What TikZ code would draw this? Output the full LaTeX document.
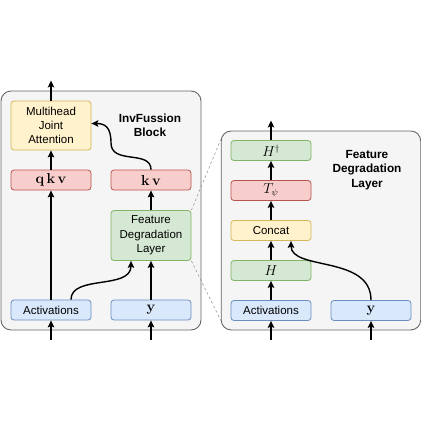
\documentclass[tikz,border=0pt]{standalone}
\usepackage[no-math]{fontspec}
\setmainfont{Liberation Sans}
\usetikzlibrary{arrows.meta,calc}
\definecolor{bfill}{HTML}{DAE8FC}\definecolor{bdraw}{HTML}{6C8EBF}
\definecolor{rfill}{HTML}{F8CECC}\definecolor{rdraw}{HTML}{B85450}
\definecolor{gfill}{HTML}{D5E8D4}\definecolor{gdraw}{HTML}{82B366}
\definecolor{yfill}{HTML}{FFF2CC}\definecolor{ydraw}{HTML}{D6B656}
\definecolor{pfill}{HTML}{F5F5F5}\definecolor{pdraw}{HTML}{666666}
\begin{document}
\begin{tikzpicture}[x=1pt,y=-1pt,
  box/.style={rectangle,rounded corners=3pt,line width=0.8pt,minimum width=80pt,minimum height=20pt,inner sep=0pt,align=center,font=\fontsize{11.5}{14.3}\selectfont},
  mathsize/.style={font=\fontsize{13.5}{15}\selectfont},
  bluebox/.style={box,fill=bfill,draw=bdraw},
  redbox/.style={box,fill=rfill,draw=rdraw},
  greenbox/.style={box,fill=gfill,draw=gdraw},
  yellowbox/.style={box,fill=yfill,draw=ydraw},
  panel/.style={rectangle,rounded corners=10pt,fill=pfill,draw=pdraw,line width=0.9pt,inner sep=0pt},
  title/.style={align=center,font=\fontsize{11.8}{14.3}\selectfont\bfseries},
  arr/.style={line width=1.4pt,-{Stealth[length=7pt,width=6.5pt,inset=1.5pt]}},
  link/.style={gray!80,dashed,line width=0.6pt,dash pattern=on 2.5pt off 2.5pt}]
\useasboundingbox (0,0) rectangle (421,421);
% panels
\node[panel,minimum width=200pt,minimum height=239pt] (lp) at (101,210.5) {};
\node[panel,minimum width=199.5pt,minimum height=199pt] (rp) at (220.75,130.5) [anchor=north west] {};
\node[title] (lt) at (150,125) {InvFussion\\Block};
\node[title] (rt) at (367,170) {Feature\\Degradation\\Layer};
% left nodes
\node[yellowbox,minimum height=49pt] (mja) at (51,125.5) {Multihead\\Joint\\Attention};
\node[redbox,mathsize] (qkv) at (51,180) {$\mathbf{q}\,\mathbf{k}\,\mathbf{v}$};
\node[redbox,mathsize] (kv) at (151,180) {$\mathbf{k}\,\mathbf{v}$};
\node[greenbox,minimum height=50pt] (fdl) at (151,235.5) {Feature\\Degradation\\Layer};
\node[bluebox] (act1) at (51,310) {Activations};
\node[bluebox,mathsize] (y1) at (151,310) {$\mathbf{y}$};
% right nodes
\node[greenbox,mathsize] (Hd) at (271,150.5) {$H^\dagger$};
\node[redbox,mathsize] (T) at (271,190.5) {$T_\psi$};
\node[yellowbox] (cat) at (271,230.5) {Concat};
\node[greenbox,mathsize] (H) at (271,270.5) {$H$};
\node[bluebox] (act2) at (271,310.5) {Activations};
\node[bluebox,mathsize] (y2) at (371,310.5) {$\mathbf{y}$};
% free ends
\coordinate (in1) at (51,340);
\coordinate (in2) at (151,340);
\coordinate (in3) at (271,340);
\coordinate (in4) at (371,340);
\coordinate (out1) at (51,80.5);
\coordinate (out2) at (271,120.5);
% dashed links
\draw[link] (fdl.north east) -- ([yshift=-9pt]rp.north west);
\draw[link] (fdl.south east) -- ([yshift=10pt]rp.south west);
% left arrows
\draw[arr] (in1) -- (act1.south);
\draw[arr] (in2) -- (y1.south);
\draw[arr] (act1.north) -- (qkv.south);
\draw[arr] (qkv.north) -- (mja.south);
\draw[arr] (mja.north) -- (out1);
\draw[arr] (y1.north) -- (fdl.south);
\draw[arr] (fdl.north) -- (kv.south);
\draw[arr] ([xshift=20pt]act1.north) .. controls ($([xshift=20pt]act1.north)+(0,-25)$) and ($([xshift=-20pt]fdl.south)+(0,29)$) .. ([xshift=-20pt]fdl.south);
\draw[arr] (kv.north) .. controls ($(kv.north)+(0,-20)$) and (111,165) .. (111,143) .. controls (111,127) and (105,123.5) .. ([yshift=2pt]mja.east);
% right arrows
\draw[arr] (in3) -- (act2.south);
\draw[arr] (in4) -- (y2.south);
\draw[arr] (act2.north) -- (H.south);
\draw[arr] (H.north) -- (cat.south);
\draw[arr] (cat.north) -- (T.south);
\draw[arr] (T.north) -- (Hd.south);
\draw[arr] (Hd.north) -- (out2);
\draw[arr] (y2.north) .. controls ($(y2.north)+(0,-45)$) and ($([xshift=20pt]cat.south)+(0,30)$) .. ([xshift=20pt]cat.south);
\end{tikzpicture}
\end{document}
